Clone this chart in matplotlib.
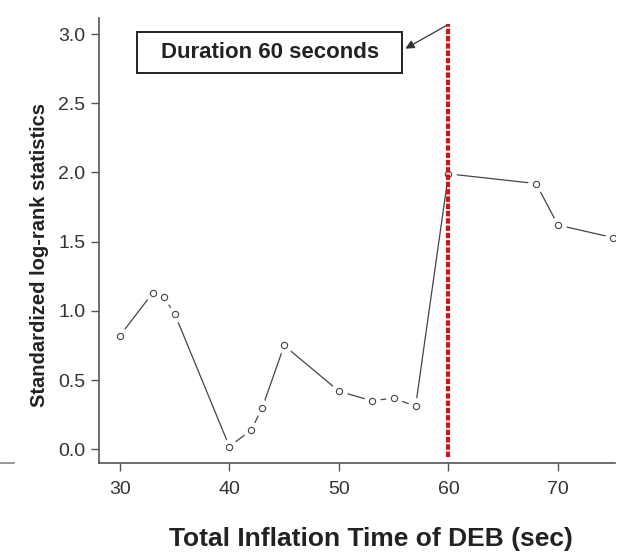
import matplotlib.pyplot as plt
from matplotlib.patches import Rectangle
from matplotlib.lines import Line2D

plt.rcParams['font.family'] = ['Liberation Sans', 'DejaVu Sans']

# inflation time (sec) vs standardized log-rank statistic
times = [30, 33, 34, 35, 40, 42, 43, 45, 50, 53, 55, 57, 60, 68, 70, 75]
stats = [0.82, 1.13, 1.10, 0.98, 0.02, 0.14, 0.30, 0.75, 0.42, 0.35, 0.37, 0.31, 1.99, 1.92, 1.62, 1.53]
cutoff = 60
x_ticks = [30, 40, 50, 60, 70]
y_ticks = [0.0, 0.5, 1.0, 1.5, 2.0, 2.5, 3.0]

grey = '#555555'

fig = plt.figure(figsize=(6.23, 5.54), dpi=100)
ax = fig.add_axes([0.159, 0.164, 0.828, 0.8035])

# line with gaps around the points (R type="b")
ax.plot(times, stats, color='#444444', lw=0.9, zorder=1)
ax.plot(times, stats, ls='none', marker='o', ms=11, mfc='white', mec='white', zorder=2)
ax.plot(times, stats, ls='none', marker='o', ms=4.5, mfc='white', mec='#444444', mew=0.8, zorder=3)

# cut-off line
ax.plot([cutoff, cutoff], [-0.055, 3.07], color='#d01515', lw=3, dashes=(1.3, 0.45), zorder=4)

# label box + arrow
ax.add_patch(Rectangle((31.6, 2.72), 24.2, 0.295, fill=False, ec='#222222', lw=1.4, zorder=5))
ax.text(43.7, 2.87, 'Duration 60 seconds', ha='center', va='center',
        fontsize=16, fontweight='bold', color='#222222', zorder=6)
ax.annotate('', xy=(55.85, 2.885), xytext=(cutoff, 3.07),
            arrowprops=dict(arrowstyle='-|>', color='#333333', lw=0.9, mutation_scale=13), zorder=6)

ax.set_xlim(28.1, 75.2)
ax.set_ylim(-0.10, 3.116)
ax.set_xticks(x_ticks)
ax.set_yticks(y_ticks)
ax.set_yticklabels(['%.1f' % v for v in y_ticks])
ax.tick_params(direction='out', length=6, width=1, color=grey, labelcolor='#333333', labelsize=14)
ax.tick_params(axis='x', pad=7)
ax.tick_params(axis='y', pad=4)

for side in ['top', 'right']:
    ax.spines[side].set_visible(False)
for side in ['left', 'bottom']:
    ax.spines[side].set_color(grey)
    ax.spines[side].set_linewidth(1.2)

fig.text(40 / 623, 1 - 255 / 554, 'Standardized log-rank statistics', rotation=90,
         ha='center', va='center', fontsize=14.5, fontweight='bold', color='#222222')
fig.text(371 / 623, 1 - 539 / 554, 'Total Inflation Time of DEB (sec)',
         ha='center', va='center', fontsize=19, fontweight='bold', color='#222222')

# stray axis piece from a neighbouring panel
fig.add_artist(Line2D([0, 0.022], [0.164, 0.164], color='#888888', lw=1.2))

fig.savefig('out.png', dpi=100)
